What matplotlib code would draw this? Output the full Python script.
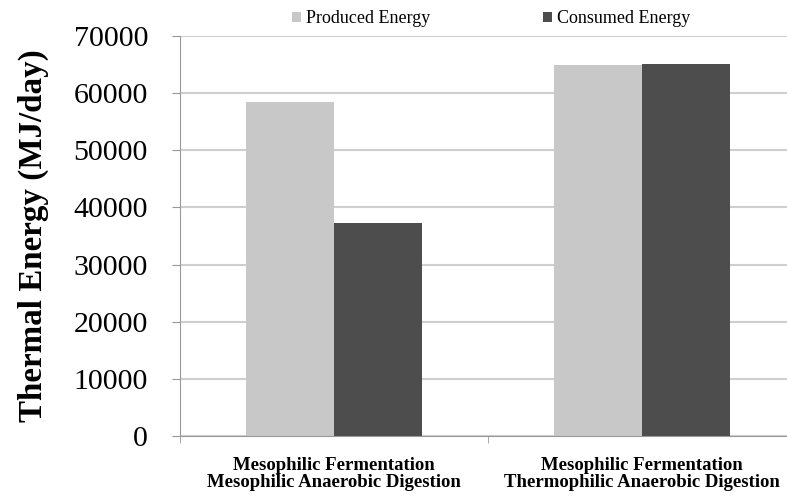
import matplotlib
matplotlib.use('Agg')
import matplotlib.pyplot as plt
import numpy as np
from matplotlib.patches import Patch

# data
categories = ['Mesophilic Fermentation\nMesophilic Anaerobic Digestion',
              'Mesophilic Fermentation\nThermophilic Anaerobic Digestion']
produced = [58500, 64900]
consumed = [37300, 65100]
series_names = ['Produced Energy', 'Consumed Energy']
yticks = [0, 10000, 20000, 30000, 40000, 50000, 60000, 70000]

light = '#c8c8c8'
dark = '#4d4d4d'
grid_col = '#cfcfcf'

plt.rcParams['font.family'] = ['Liberation Serif', 'DejaVu Serif']

fig = plt.figure(figsize=(7.87, 4.97), dpi=100)
ax = fig.add_axes([180 / 787, 1 - 436 / 497, 616 / 787, 400 / 497])

x = np.arange(len(categories))
w = 0.286
ax.bar(x - w / 2, produced, width=w, color=light, zorder=3)
ax.bar(x + w / 2, consumed, width=w, color=dark, zorder=3)

ax.set_xlim(-0.5, 1.5)
ax.set_ylim(0, 70000)
ax.set_yticks(yticks)
ax.set_yticklabels([str(v) for v in yticks], fontsize=21.5)
ax.yaxis.grid(True, color=grid_col, linewidth=1.5, zorder=0)
ax.set_axisbelow(True)

ax.set_xticks(x)
ax.set_xticklabels(categories, fontsize=13.5, fontweight='bold', linespacing=1.05)
ax.set_xticks([-0.5, 0.5, 1.5], minor=True)
ax.tick_params(axis='x', which='major', length=0, pad=15)
ax.tick_params(axis='x', which='minor', length=5, color='#999999', direction='out')
ax.tick_params(axis='y', length=6, color='#999999', pad=17)

for s in ['top', 'right']:
    ax.spines[s].set_visible(False)
ax.spines['left'].set_color('#999999')
ax.spines['bottom'].set_color('#999999')
ax.spines['bottom'].set_zorder(4)

ax.set_ylabel('Thermal Energy (MJ/day)', fontsize=23.8, fontweight='bold', labelpad=18)

handles = [Patch(facecolor=light), Patch(facecolor=dark)]
fig.legend(handles, series_names, loc='upper center', bbox_to_anchor=(0.624, 1.012),
           ncol=2, frameon=False, fontsize=13, handlelength=0.5, handleheight=0.5,
           handletextpad=0.3, columnspacing=6.2)

plt.savefig('out.png', dpi=100)
